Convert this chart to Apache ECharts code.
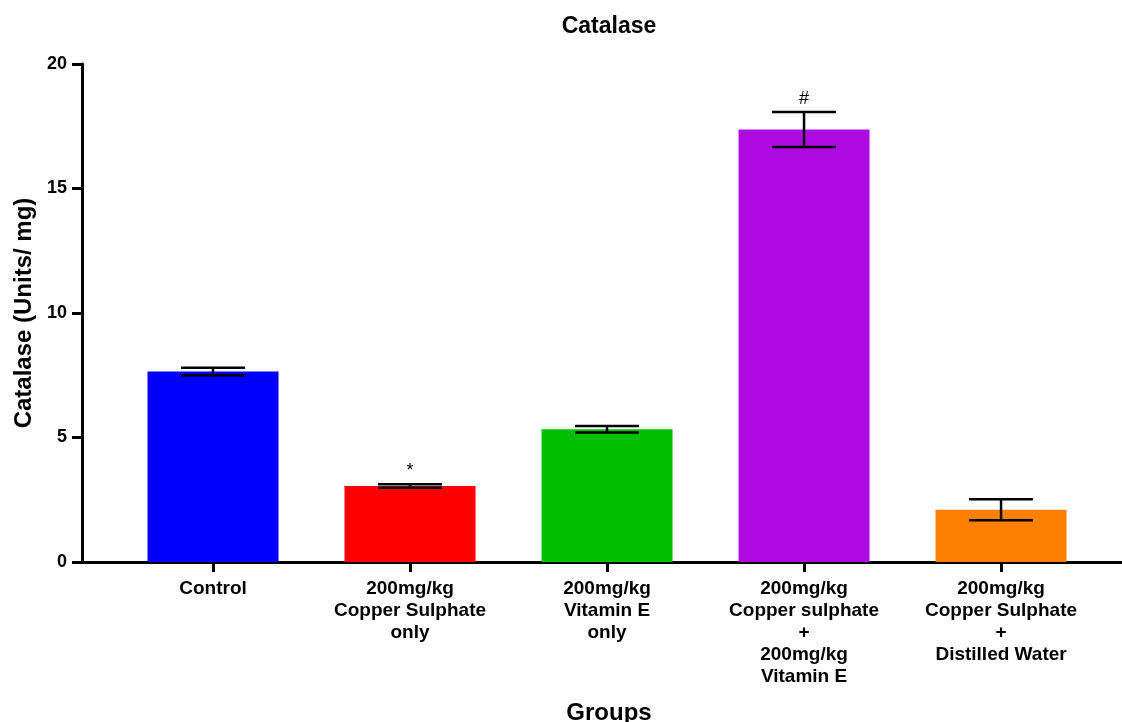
<!DOCTYPE html>
<html>
<head>
<meta charset="utf-8">
<title>Catalase</title>
<script src="https://cdn.jsdelivr.net/npm/echarts@6/dist/echarts.min.js"></script>
<style>
  html, body { margin: 0; padding: 0; background: #fff; }
  #chart { width: 1122px; height: 722px; }
</style>
</head>
<body>
<div id="chart"></div>
<script>
// Group labels (multi-line)
const categories = [
  'Control',
  '200mg/kg\nCopper Sulphate\nonly',
  '200mg/kg\nVitamin E\nonly',
  '200mg/kg\nCopper sulphate\n+\n200mg/kg\nVitamin E',
  '200mg/kg\nCopper Sulphate\n+\nDistilled Water'
];
// Mean catalase activity (Units/ mg) and standard error
const means = [7.65, 3.05, 5.33, 17.37, 2.10];
const errors = [0.15, 0.07, 0.13, 0.70, 0.42];
// Significance marks above error bars
const annotations = ['', '*', '', '#', ''];
const barColors = ['#0000FF', '#FF0000', '#00C000', '#AE0AE2', '#FF8000'];
const yTicks = [0, 5, 10, 15, 20];

const FONT = 'Liberation Sans, Arial, sans-serif';
const chart = echarts.init(document.getElementById('chart'));

const positions = categories.map((_, i) => i);

chart.setOption({
  animation: false,
  backgroundColor: '#fff',
  title: [
    {
      text: 'Catalase',
      left: 604, top: 10, textAlign: 'center',
      textStyle: { fontFamily: FONT, fontWeight: 'bold', fontSize: 23, color: '#000' }
    },
    {
      text: 'Groups',
      left: 604, top: 696, textAlign: 'center',
      textStyle: { fontFamily: FONT, fontWeight: 'bold', fontSize: 24, color: '#000' }
    }
  ],
  grid: { left: 82, right: 0, top: 64, bottom: 160, containLabel: false, outerBoundsMode: 'none' },
  xAxis: {
    type: 'value',
    min: -0.665,
    max: 4.614,
    splitLine: { show: false },
    axisLine: { show: true, onZero: false, lineStyle: { color: '#000', width: 3 } },
    axisTick: { show: true, length: 10, lineStyle: { color: '#000', width: 3 }, customValues: positions },
    axisLabel: {
      customValues: positions,
      formatter: v => categories[Math.round(v)],
      fontFamily: FONT, fontWeight: 'bold', fontSize: 19, color: '#000',
      lineHeight: 22, margin: 16, align: 'center'
    }
  },
  yAxis: {
    type: 'value',
    min: 0, max: 20, interval: 5,
    name: 'Catalase (Units/ mg)',
    nameLocation: 'middle',
    nameGap: 41,
    nameRotate: 90,
    nameTextStyle: { fontFamily: FONT, fontWeight: 'bold', fontSize: 24, color: '#000' },
    splitLine: { show: false },
    axisLine: { show: true, onZero: false, lineStyle: { color: '#000', width: 3 } },
    axisTick: { show: true, length: 10, lineStyle: { color: '#000', width: 3 } },
    axisLabel: {
      customValues: yTicks,
      fontFamily: FONT, fontWeight: 'bold', fontSize: 18, color: '#000', margin: 15
    }
  },
  series: [
    {
      type: 'bar',
      barWidth: 131,
      z: 1,
      data: means.map((m, i) => ({ value: [i, m], itemStyle: { color: barColors[i] } }))
    },
    {
      type: 'custom',
      z: 3,
      data: means.map((m, i) => [i, m, errors[i]]),
      renderItem: function (params, api) {
        const x = api.value(0), m = api.value(1), e = api.value(2);
        const top = api.coord([x, m + e]);
        const bot = api.coord([x, m - e]);
        const half = 32;
        const style = { stroke: '#000', lineWidth: 2.5 };
        const children = [
          { type: 'line', shape: { x1: top[0], y1: top[1], x2: bot[0], y2: bot[1] }, style },
          { type: 'line', shape: { x1: top[0] - half, y1: top[1], x2: top[0] + half, y2: top[1] }, style },
          { type: 'line', shape: { x1: bot[0] - half, y1: bot[1], x2: bot[0] + half, y2: bot[1] }, style }
        ];
        const note = annotations[params.dataIndex];
        if (note) {
          children.push({
            type: 'text',
            style: {
              text: note, x: top[0], y: top[1] - 4,
              align: 'center', verticalAlign: 'bottom',
              fontFamily: FONT, fontSize: 18, fill: '#000'
            }
          });
        }
        return { type: 'group', children };
      }
    }
  ]
});
</script>
</body>
</html>
